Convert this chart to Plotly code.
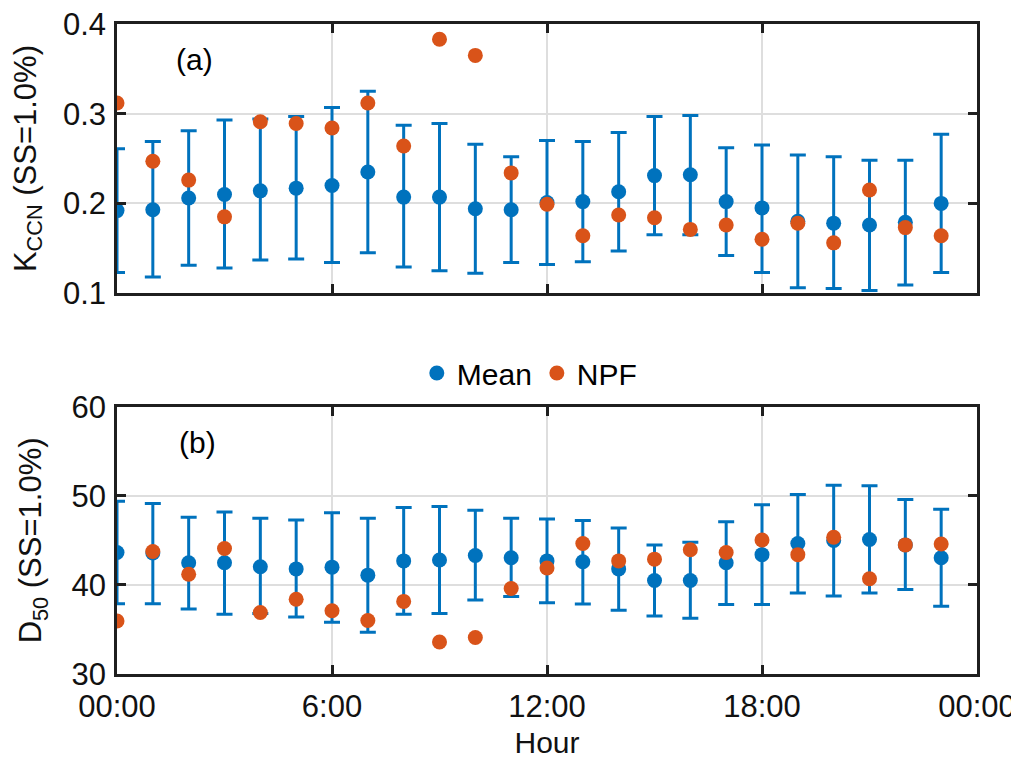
import plotly.graph_objects as go
from plotly.subplots import make_subplots

hours = list(range(24))

# Panel (a): kappa CCN
k_mean = [0.192, 0.193, 0.206, 0.210, 0.214, 0.217, 0.220, 0.235, 0.207, 0.207, 0.194, 0.193,
          0.201, 0.202, 0.213, 0.231, 0.232, 0.202, 0.195, 0.180, 0.178, 0.176, 0.179, 0.200]
k_upper = [0.261, 0.269, 0.281, 0.293, 0.294, 0.297, 0.307, 0.325, 0.287, 0.289, 0.266, 0.252,
           0.270, 0.269, 0.279, 0.297, 0.298, 0.262, 0.265, 0.254, 0.252, 0.248, 0.248, 0.277]
k_lower = [0.123, 0.118, 0.131, 0.128, 0.137, 0.138, 0.134, 0.145, 0.129, 0.125, 0.122, 0.134,
           0.132, 0.135, 0.147, 0.165, 0.165, 0.142, 0.123, 0.106, 0.105, 0.103, 0.109, 0.123]
k_npf = [0.312, 0.247, 0.226, 0.185, 0.291, 0.289, 0.284, 0.312, 0.264, 0.383, 0.365, 0.234,
         0.199, 0.164, 0.187, 0.184, 0.171, 0.176, 0.160, 0.178, 0.156, 0.215, 0.173, 0.164]

# Panel (b): D50
d_mean = [43.65, 43.6, 42.5, 42.5, 42.05, 41.8, 42.0, 41.1, 42.7, 42.8, 43.3, 43.05,
          42.7, 42.6, 41.8, 40.5, 40.5, 42.5, 43.4, 44.65, 45.0, 45.1, 44.5, 43.05]
d_upper = [49.4, 49.15, 47.6, 48.2, 47.5, 47.3, 48.1, 47.5, 48.7, 48.8, 48.4, 47.5,
           47.4, 47.25, 46.4, 44.5, 44.8, 47.1, 49.0, 50.15, 51.2, 51.15, 49.6, 48.5]
d_lower = [37.9, 37.9, 37.3, 36.7, 36.8, 36.4, 35.8, 34.7, 36.7, 36.8, 38.3, 38.7,
           38.0, 37.85, 37.15, 36.5, 36.25, 37.8, 37.8, 39.1, 38.75, 39.1, 39.5, 37.6]
d_npf = [35.95, 43.75, 41.2, 44.1, 36.9, 38.4, 37.1, 36.0, 38.15, 33.6, 34.1, 39.6,
         41.9, 44.65, 42.7, 42.9, 43.95, 43.65, 45.05, 43.4, 45.35, 40.7, 44.5, 44.6]

x_tickvals = [0, 6, 12, 18, 24]
x_ticktext = ["00:00", "6:00", "12:00", "18:00", "00:00"]

BLUE = "#0072BD"
ORANGE = "#D95319"
FRAME = "#1f1f1f"
GRID = "#DEDEDE"
FONT = "Liberation Sans, Arial, sans-serif"
TXT = "#111111"

fig = make_subplots(rows=2, cols=1, shared_xaxes=False, vertical_spacing=0.0)

def add_panel(row, mean, upper, lower, npf, show):
    plus = [u - m for u, m in zip(upper, mean)]
    minus = [m - l for m, l in zip(mean, lower)]
    fig.add_trace(go.Scatter(
        x=hours, y=mean, mode="markers", name="Mean", showlegend=show,
        marker=dict(color=BLUE, size=15),
        error_y=dict(type="data", symmetric=False, array=plus, arrayminus=minus,
                     color=BLUE, thickness=3, width=8),
    ), row=row, col=1)
    fig.add_trace(go.Scatter(
        x=hours, y=npf, mode="markers", name="NPF", showlegend=show,
        marker=dict(color=ORANGE, size=15),
    ), row=row, col=1)

add_panel(1, k_mean, k_upper, k_lower, k_npf, True)
add_panel(2, d_mean, d_upper, d_lower, d_npf, False)

axis_common = dict(
    showline=True, linecolor=FRAME, linewidth=2.5, mirror="ticks",
    ticks="inside", ticklen=9, tickwidth=2.5, tickcolor=FRAME,
    showgrid=True, gridcolor=GRID, gridwidth=2, zeroline=False,
    tickfont=dict(family=FONT, size=31, color=TXT),
    ticklabeloverflow="allow",
)

fig.update_xaxes(range=[0, 24], tickvals=x_tickvals, ticktext=x_ticktext, ticklabelstandoff=3,
                 **axis_common)
fig.update_xaxes(showticklabels=False, row=1, col=1)
fig.update_xaxes(title=dict(text="Hour", font=dict(family=FONT, size=30, color=TXT), standoff=10),
                 row=2, col=1)

fig.update_yaxes(ticklabelstandoff=2, **axis_common)
fig.update_yaxes(range=[0.1, 0.4], tickvals=[0.1, 0.2, 0.3, 0.4], ticktext=["0.1", "0.2", "0.3", "0.4"],
                 title=dict(text="K<sub>CCN</sub> (SS=1.0%)", font=dict(family=FONT, size=31, color=TXT),
                            standoff=21),
                 row=1, col=1)
fig.update_yaxes(range=[30, 60], tickvals=[30, 40, 50, 60], ticktext=["30", "40", "50", "60"],
                 title=dict(text="D<sub>50</sub> (SS=1.0%)", font=dict(family=FONT, size=31, color=TXT),
                            standoff=21),
                 row=2, col=1)

# The page places the figure 8 px from the top-left corner, so the figure is
# 8 px smaller and its margins 8 px less on the left/top.
fig.update_layout(
    width=1011, height=753,
    margin=dict(l=109, r=42, t=16, b=87, autoexpand=False),
    plot_bgcolor="white", paper_bgcolor="white",
    font=dict(family=FONT, color=TXT),
    legend=dict(orientation="h", x=0.48, xanchor="center", y=0.463, yanchor="middle",
                font=dict(family=FONT, size=30, color="#000000"), itemwidth=30,
                bgcolor="rgba(0,0,0,0)"),
    xaxis=dict(domain=[0, 1]),
    yaxis=dict(domain=[0.586, 1.0]),
    yaxis2=dict(domain=[0.0, 0.411]),
    annotations=[
        dict(text="(a)", x=2.15, y=0.36, xref="x", yref="y", showarrow=False,
             font=dict(family=FONT, size=30, color="#000000")),
        dict(text="(b)", x=2.25, y=55.95, xref="x2", yref="y2", showarrow=False,
             font=dict(family=FONT, size=30, color="#000000")),
    ],
)

fig.write_html("out.html")
